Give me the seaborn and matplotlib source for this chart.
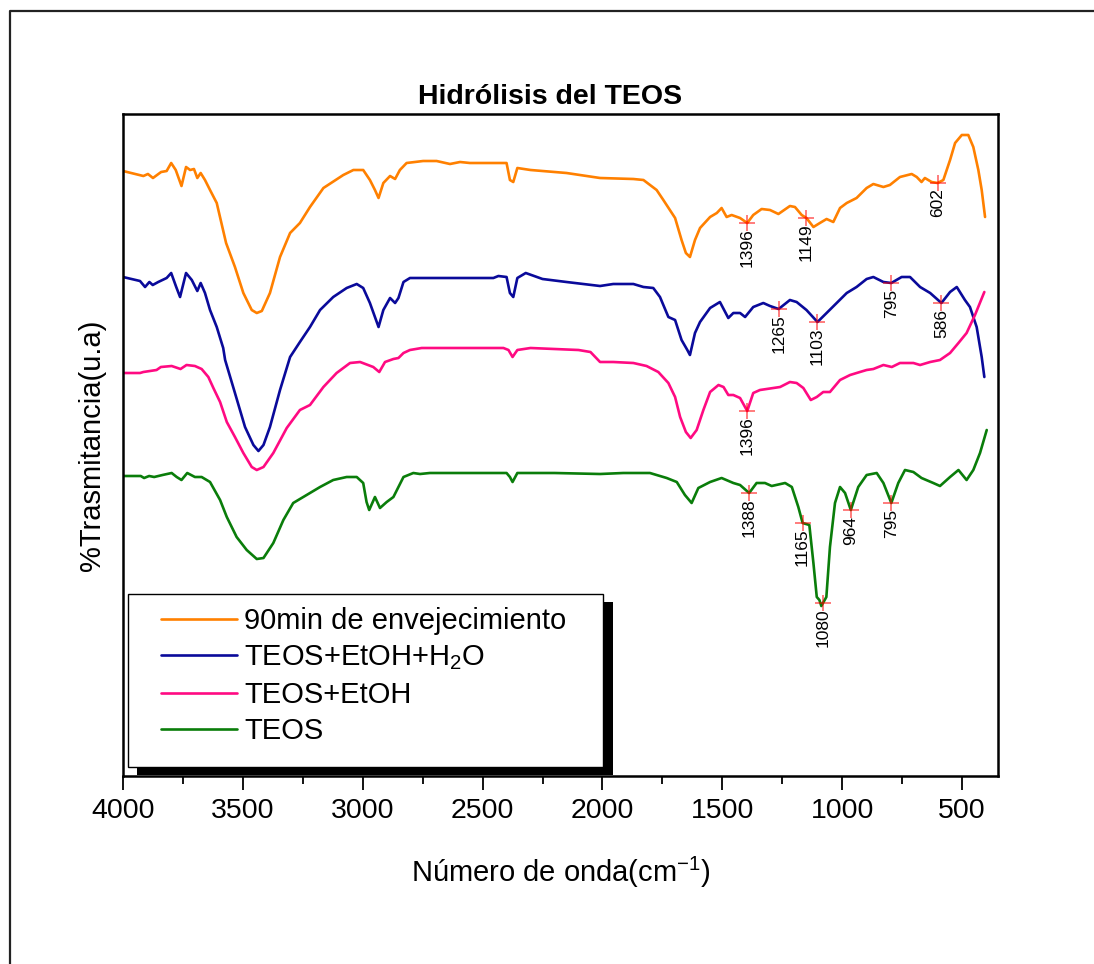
import numpy as np
import pandas as pd
import matplotlib
matplotlib.use("Agg")
import matplotlib.pyplot as plt
from matplotlib.lines import Line2D
from matplotlib.patches import Rectangle
import seaborn as sns

# FTIR spectra (wavenumber in cm-1, transmittance in arbitrary offset units)
wn_aged = [4000, 3915, 3896, 3875, 3841, 3818, 3799, 3780, 3756, 3737, 3720, 3704, 3690, 3676,
           3658, 3637, 3609, 3570, 3533, 3498, 3463, 3442, 3421, 3387, 3345, 3303, 3262, 3220,
           3164, 3081, 3039, 2998, 2970, 2949, 2934, 2914, 2886, 2865, 2845, 2817, 2748, 2692,
           2636, 2594, 2553, 2400, 2386, 2372, 2355, 2300, 2150, 2010, 1871, 1829, 1774, 1746,
           1697, 1670, 1652, 1635, 1614, 1593, 1551, 1523, 1503, 1482, 1461, 1426, 1396, 1371,
           1336, 1301, 1266, 1218, 1197, 1169, 1149, 1120, 1093, 1065, 1037, 1009, 981, 940,
           898, 870, 828, 801, 759, 710, 689, 669, 655, 627, 602, 578, 550, 529, 501, 474,
           453, 432, 418, 404]
t_aged = [605, 600, 602, 598, 604, 605, 613, 606, 590, 609, 606, 607, 598, 603,
          596, 586, 573, 533, 509, 483, 466, 463, 465, 483, 519, 543, 553, 569,
          588, 601, 606, 606, 596, 586, 578, 593, 600, 597, 606, 613, 615, 615,
          612, 614, 613, 613, 596, 594, 608, 606, 603, 598, 597, 596, 586, 576,
          558, 536, 523, 519, 536, 548, 559, 563, 568, 559, 561, 558, 553, 561,
          567, 566, 562, 570, 569, 561, 558, 549, 553, 557, 554, 568, 573, 578,
          588, 592, 589, 591, 599, 602, 599, 594, 598, 594, 593, 596, 616, 633, 641, 641,
          629, 606, 586, 559]

wn_water = [4000, 3929, 3908, 3890, 3876, 3853, 3818, 3799, 3778, 3762, 3737, 3713, 3690, 3676,
            3658, 3637, 3609, 3582, 3574, 3533, 3491, 3456, 3435, 3414, 3387, 3345, 3303, 3262,
            3220, 3178, 3123, 3067, 3025, 2998, 2970, 2949, 2934, 2914, 2886, 2865, 2851, 2830,
            2803, 2455, 2434, 2400, 2386, 2372, 2355, 2320, 2250, 2150, 2010, 1955, 1871, 1829,
            1788, 1760, 1725, 1697, 1670, 1646, 1635, 1614, 1593, 1551, 1510, 1475, 1454, 1426,
            1405, 1371, 1329, 1301, 1265, 1218, 1190, 1149, 1103, 1065, 1023, 981, 940, 898,
            870, 828, 795, 752, 717, 675, 633, 586, 550, 522, 488, 467, 439, 418, 407]
t_water = [499, 495, 489, 494, 491, 494, 498, 503, 489, 479, 503, 496, 485, 493,
           483, 466, 449, 428, 416, 383, 349, 331, 325, 331, 349, 386, 419, 434,
           449, 466, 479, 488, 492, 488, 473, 459, 449, 466, 478, 473, 478, 494,
           498, 498, 500, 499, 483, 479, 498, 503, 497, 494, 490, 492, 492, 489,
           488, 479, 459, 456, 436, 426, 421, 443, 454, 468, 474, 458, 463, 463,
           459, 469, 473, 470, 467, 476, 474, 466, 454, 463, 473, 483, 489, 497,
           499, 494, 493, 499, 499, 489, 483, 473, 484, 489, 476, 469, 449, 419, 399]

wn_etoh = [4000, 3929, 3915, 3860, 3842, 3797, 3760, 3735, 3700, 3672, 3644, 3623, 3595, 3567,
           3533, 3498, 3463, 3442, 3414, 3373, 3317, 3262, 3220, 3164, 3109, 3053, 3011, 2956,
           2931, 2907, 2872, 2851, 2830, 2803, 2754, 2413, 2392, 2375, 2355, 2300, 2100, 2050,
           2010, 1955, 1871, 1816, 1767, 1725, 1697, 1676, 1652, 1632, 1607, 1579, 1551, 1516,
           1495, 1475, 1454, 1426, 1396, 1371, 1343, 1287, 1259, 1218, 1190, 1162, 1131, 1106,
           1079, 1051, 1009, 967, 926, 898, 870, 828, 793, 759, 703, 675, 633, 592, 550, 515,
           481, 446, 407]
t_etoh = [403, 403, 404, 406, 409, 410, 407, 411, 410, 407, 399, 388, 374, 354,
          339, 323, 309, 306, 309, 323, 348, 366, 371, 389, 403, 413, 414, 409,
          404, 414, 417, 418, 423, 426, 428, 428, 426, 419, 426, 428, 426, 424,
          414, 414, 413, 410, 404, 393, 379, 359, 344, 338, 346, 366, 384, 391,
          389, 381, 381, 378, 365, 383, 386, 388, 389, 394, 393, 388, 376, 379,
          384, 384, 396, 401, 404, 406, 407, 411, 409, 413, 413, 411, 414, 416, 423, 433,
          443, 461, 484]

wn_teos = [4000, 3926, 3912, 3891, 3870, 3835, 3797, 3776, 3756, 3732, 3700, 3672, 3637, 3595,
           3567, 3526, 3484, 3442, 3414, 3373, 3331, 3290, 3234, 3178, 3123, 3067, 3025, 2998,
           2984, 2973, 2949, 2928, 2900, 2872, 2830, 2789, 2761, 2720, 2400, 2386, 2375, 2355,
           2200, 2010, 1913, 1802, 1732, 1690, 1656, 1628, 1600, 1551, 1503, 1454, 1426, 1388,
           1357, 1322, 1294, 1238, 1210, 1183, 1165, 1137, 1120, 1106, 1095, 1087, 1080, 1066,
           1051, 1030, 1009, 988, 964, 933, 898, 856, 828, 795, 766, 738, 703, 669, 620, 592,
           550, 515, 481, 453, 425, 397]
t_teos = [300, 300, 298, 300, 299, 301, 303, 299, 296, 303, 299, 299, 294, 276,
          259, 239, 226, 217, 218, 233, 256, 273, 281, 289, 296, 299, 299, 293,
          274, 266, 279, 268, 274, 279, 299, 303, 302, 303, 303, 299, 294, 303,
          303, 302, 303, 303, 298, 294, 281, 273, 288, 294, 298, 293, 291, 283,
          293, 293, 290, 293, 289, 269, 253, 251, 213, 179, 176, 170, 173, 179,
          229, 273, 289, 283, 266, 289, 301, 303, 293, 273, 293, 306, 304, 298, 293, 290,
          299, 306, 296, 306, 323, 346]

labels = ["90min de envejecimiento", "TEOS+EtOH+H$_2$O", "TEOS+EtOH", "TEOS"]
colors = ["#FF8000", "#0A0A9A", "#FF0A82", "#0A7D0A"]

# marked band positions (cm-1) for each spectrum
peaks_aged = [1396, 1149, 602]
peaks_water = [1265, 1103, 795, 586]
peaks_etoh = [1396]
peaks_teos = [1388, 1165, 1080, 964, 795]

series = [(wn_aged, t_aged, peaks_aged), (wn_water, t_water, peaks_water),
          (wn_etoh, t_etoh, peaks_etoh), (wn_teos, t_teos, peaks_teos)]

sns.set_theme(style="white")
plt.rcParams["font.family"] = ["Liberation Sans", "DejaVu Sans"]
plt.rcParams["mathtext.fontset"] = "custom"
plt.rcParams["mathtext.rm"] = "Liberation Sans"
plt.rcParams["mathtext.it"] = "Liberation Sans:italic"
plt.rcParams["mathtext.default"] = "regular"
plt.rcParams["text.color"] = "black"
plt.rcParams["axes.labelcolor"] = "black"
plt.rcParams["xtick.color"] = "black"
plt.rcParams["ytick.color"] = "black"

W, H = 1094, 964
fig = plt.figure(figsize=(W / 100, H / 100), dpi=100)
fig.patch.set_facecolor("white")
ax = fig.add_axes([123 / W, 1 - 776 / H, 875 / W, 662 / H])
ax.set_facecolor("white")

for (wn, t, pk), lab, col in zip(series, labels, colors):
    df = pd.DataFrame({"wn": wn, "T": t})
    sns.lineplot(data=df, x="wn", y="T", ax=ax, color=col, lw=1.9,
                 estimator=None, sort=False, label=lab)
    xs = np.array(wn[::-1], dtype=float)
    ys = np.array(t[::-1], dtype=float)
    for p in pk:
        yv = np.interp(p, xs, ys)
        ax.plot([p], [yv], marker="+", ms=12, mew=1.1, color="red", alpha=0.65,
                ls="none", zorder=4)
        ax.annotate(str(p), xy=(p, yv), xytext=(0, -4), textcoords="offset points",
                    rotation=90, ha="center", va="top", fontsize=12.5, color="black")

ax.set_xlim(4000, 350)
ax.set_ylim(0, 662)
ax.set_xticks([4000, 3500, 3000, 2500, 2000, 1500, 1000, 500])
ax.set_xticks(np.arange(3750, 349, -500), minor=True)
ax.set_yticks([])
ax.tick_params(axis="x", which="major", direction="out", length=10, width=1.3,
               labelsize=20.5, pad=6, bottom=True, top=False, color="black",
               labelcolor="black")
ax.tick_params(axis="x", which="minor", direction="out", length=5.5, width=1.3,
               bottom=True, top=False, color="black")
for s in ax.spines.values():
    s.set_visible(True)
    s.set_color("black")
    s.set_linewidth(1.8)

ax.set_xlabel("Número de onda(cm$^{-1}$)", fontsize=21, labelpad=22, color="black")
ax.set_ylabel("%Trasmitancia(u.a)", fontsize=21, labelpad=12, color="black")
ax.set_title("Hidrólisis del TEOS", fontsize=20.5, fontweight="bold",
             x=(550 - 123) / 875, pad=7, color="black")

# legend with a square frame and a solid offset shadow
leg = ax.legend(loc="upper left", bbox_to_anchor=(161 / W, 1 - 607 / H),
                bbox_transform=fig.transFigure, frameon=False, borderpad=0,
                borderaxespad=0, handlelength=2.6, handletextpad=0.25,
                labelspacing=0.29, fontsize=21)
for h in leg.get_lines():
    h.set_linewidth(1.9)
for txt in leg.get_texts():
    txt.set_color("black")
leg.set_zorder(6)
ax.add_patch(Rectangle((137 / W, 1 - 775 / H), 476 / W, 173 / H, transform=fig.transFigure,
                       facecolor="black", edgecolor="black", lw=0, zorder=5, clip_on=False))
ax.add_patch(Rectangle((127.5 / W, 1 - 766.5 / H), 475 / W, 173 / H, transform=fig.transFigure,
                       facecolor="white", edgecolor="black", lw=1.0, zorder=5.5, clip_on=False))

# page border (left and top edges)
fig.add_artist(Line2D([9.5 / W, 9.5 / W, 1.0], [0.0, 1 - 10.5 / H, 1 - 10.5 / H],
                      transform=fig.transFigure, color="#222222", lw=1.6))

fig.savefig("out.png", dpi=100, facecolor="white")
